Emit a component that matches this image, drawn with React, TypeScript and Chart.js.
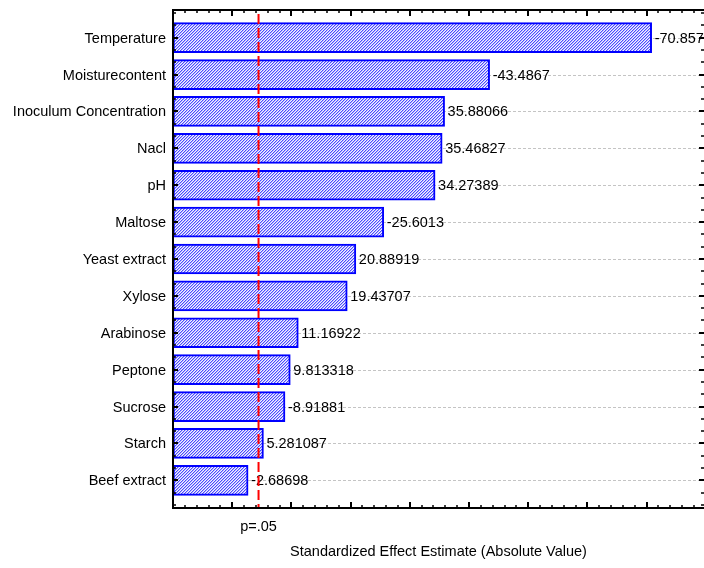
import React, { useEffect, useRef } from 'react';
import { Chart, registerables } from 'chart.js';

Chart.register(...registerables);

const categories = [
  'Temperature',
  'Moisturecontent',
  'Inoculum Concentration',
  'Nacl',
  'pH',
  'Maltose',
  'Yeast extract',
  'Xylose',
  'Arabinose',
  'Peptone',
  'Sucrose',
  'Starch',
  'Beef extract',
];
const effects = [
  -70.857, -43.4867, 35.88066, 35.46827, 34.27389, -25.6013, 20.88919, 19.43707,
  11.16922, 9.813318, -8.91881, 5.281087, -2.68698,
];
const pLimit = 4.45;
const pLabel = 'p=.05';
const xMin = -10;
const xMax = 79.7;
const xTitle = 'Standardized Effect Estimate (Absolute Value)';

const FONT = "'Liberation Sans', Arial, sans-serif";
const FONT_SIZE = 14.5;

function makeHatch(): CanvasPattern | string {
  const c = document.createElement('canvas');
  c.width = 3;
  c.height = 3;
  const g = c.getContext('2d');
  if (!g) return '#a8a8ff';
  g.fillStyle = '#f4f4ff';
  g.fillRect(0, 0, 3, 3);
  g.fillStyle = '#4a4aff';
  g.fillRect(0, 2, 1, 1);
  g.fillRect(1, 1, 1, 1);
  g.fillRect(2, 0, 1, 1);
  g.fillStyle = '#b4b4ff';
  g.fillRect(1, 2, 1, 1);
  g.fillRect(2, 1, 1, 1);
  g.fillRect(0, 0, 1, 1);
  const p = g.createPattern(c, 'repeat');
  return p || '#a8a8ff';
}

const decor = {
  id: 'decor',
  beforeDatasetsDraw(chart: any) {
    const { ctx, chartArea: a, scales } = chart;
    const y = scales.y;
    ctx.save();
    ctx.strokeStyle = '#c4c4c4';
    ctx.lineWidth = 1;
    ctx.setLineDash([3, 2]);
    categories.forEach((_, i) => {
      const py = Math.round(y.getPixelForValue(i)) + 0.5;
      ctx.beginPath();
      ctx.moveTo(a.left, py);
      ctx.lineTo(a.right, py);
      ctx.stroke();
    });
    ctx.restore();
  },
  afterDatasetsDraw(chart: any) {
    const { ctx, chartArea: a, scales } = chart;
    const x = scales.x;
    const y = scales.y;
    ctx.save();

    ctx.font = `${FONT_SIZE}px ${FONT}`;
    ctx.fillStyle = '#000';
    ctx.textBaseline = 'middle';

    // category labels
    ctx.textAlign = 'right';
    categories.forEach((c, i) => {
      ctx.fillText(c, a.left - 7, y.getPixelForValue(i) + 1);
    });

    // value labels
    ctx.textAlign = 'left';
    effects.forEach((v, i) => {
      const px = x.getPixelForValue(Math.abs(v)) + 3;
      const py = y.getPixelForValue(i);
      ctx.fillText(String(v), px, py + 1);
    });

    // red p-limit line
    const lx = x.getPixelForValue(pLimit);
    ctx.strokeStyle = '#ff0000';
    ctx.lineWidth = 2;
    ctx.setLineDash([10, 4]);
    ctx.beginPath();
    ctx.moveTo(lx, a.top + 4);
    ctx.lineTo(lx, a.bottom);
    ctx.stroke();
    ctx.setLineDash([]);

    // frame
    ctx.strokeStyle = '#000';
    ctx.lineWidth = 2;
    ctx.beginPath();
    ctx.moveTo(a.right, a.top);
    ctx.lineTo(a.left, a.top);
    ctx.lineTo(a.left, a.bottom);
    ctx.lineTo(a.right, a.bottom);
    ctx.stroke();

    // x ticks (top & bottom)
    for (let v = xMin; v <= xMax; v += 2) {
      const px = Math.round(x.getPixelForValue(v));
      const major = Math.abs(v % 10) < 1e-9;
      const len = major ? 6 : 3;
      ctx.lineWidth = major ? 2 : 1.5;
      ctx.beginPath();
      ctx.moveTo(px, a.top);
      ctx.lineTo(px, a.top + len);
      ctx.moveTo(px, a.bottom);
      ctx.lineTo(px, a.bottom - len);
      ctx.stroke();
    }

    // y ticks (left & right)
    for (let k = Math.ceil(y.min * 3); k <= Math.floor(y.max * 3); k++) {
      const v = k / 3;
      const py = Math.round(y.getPixelForValue(v));
      const major = k % 3 === 0;
      const len = major ? 5 : 3;
      ctx.lineWidth = major ? 2 : 1.5;
      ctx.beginPath();
      ctx.moveTo(a.left, py);
      ctx.lineTo(a.left + len, py);
      ctx.moveTo(a.right, py);
      ctx.lineTo(a.right - len, py);
      ctx.stroke();
    }

    // p label
    ctx.fillStyle = '#000';
    ctx.textAlign = 'center';
    ctx.textBaseline = 'middle';
    ctx.fillText(pLabel, lx, a.bottom + 19);

    ctx.restore();
  },
};

export default function App() {
  const ref = useRef<HTMLCanvasElement | null>(null);

  useEffect(() => {
    const canvas = ref.current;
    if (!canvas) return;
    const hatch = makeHatch();
    const chart = new Chart(canvas, {
      type: 'bar',
      data: {
        datasets: [
          {
            data: effects.map((v, i) => ({ y: i, x: [xMin, Math.abs(v)] })) as any,
            backgroundColor: hatch as any,
            borderColor: '#0000ff',
            borderWidth: 2,
            borderSkipped: false,
            barThickness: 30,
          },
        ],
      },
      options: {
        responsive: false,
        animation: false,
        indexAxis: 'y',
        layout: { padding: { top: 10, right: 0, left: 0, bottom: 0 } },
        plugins: {
          legend: { display: false },
          tooltip: { enabled: false },
          title: { display: false },
        },
        scales: {
          x: {
            type: 'linear',
            min: xMin,
            max: xMax,
            position: 'bottom',
            offset: false,
            grid: { display: false, drawTicks: false },
            border: { display: false },
            ticks: { display: false },
            title: {
              display: true,
              text: xTitle,
              color: '#000',
              font: { family: FONT, size: FONT_SIZE },
              padding: { top: 0, bottom: 7 },
            },
            afterFit: (s: any) => {
              s.height = 60;
            },
          },
          y: {
            type: 'linear',
            min: -0.75,
            max: 12.75,
            reverse: true,
            offset: false,
            grid: { display: false, drawTicks: false, offset: false },
            border: { display: false },
            ticks: { display: false },
            afterFit: (s: any) => {
              s.width = 173;
            },
          },
        },
      },
      plugins: [decor],
    });
    return () => chart.destroy();
  }, []);

  return (
    <div style={{ position: 'fixed', left: 0, top: 0, width: 704, height: 568, background: '#fff' }}>
      <canvas ref={ref} width={704} height={568} style={{ display: 'block' }} />
    </div>
  );
}
